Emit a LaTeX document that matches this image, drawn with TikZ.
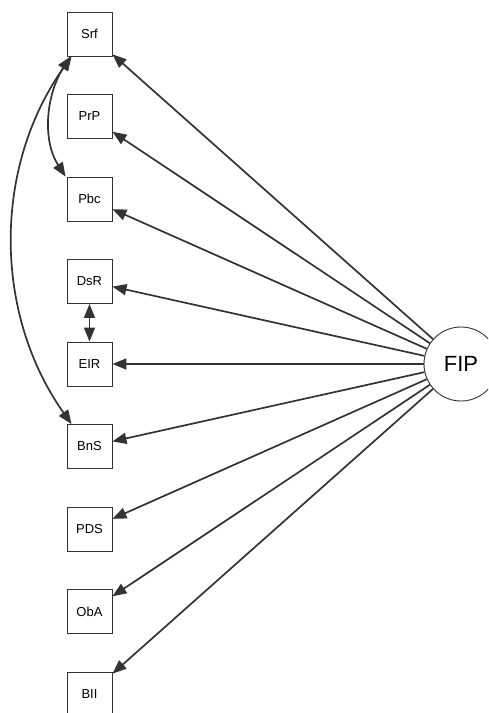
\documentclass[tikz,border=0pt]{standalone}
\usepackage{fontspec}
\setmainfont{Liberation Sans}
\usetikzlibrary{arrows.meta,positioning}
\definecolor{ink}{HTML}{333333}

\begin{document}
\begin{tikzpicture}[x=1pt,y=-1pt,
    var/.style={draw=ink,line width=0.9pt,minimum width=45pt,minimum height=44pt,inner sep=0pt,font=\fontsize{13}{15}\selectfont},
    lat/.style={draw=ink,line width=0.9pt,circle,minimum size=74pt,inner sep=0pt,font=\fontsize{22}{26}\selectfont},
    path/.style={-{Triangle[length=14pt,width=11pt]},ink,line width=1.7pt},
    cov/.style={{Triangle[length=14pt,width=11pt]}-{Triangle[length=14pt,width=11pt]},ink,line width=1.7pt}]
              \useasboundingbox (0,0) rectangle (488,713);
              \clip (0,0) rectangle (488,713);
              \node[var] (Srf) at (89.5,34) {Srf};
              \node[var] (PrP) at (89.5,116.5) {PrP};
              \node[var] (Pbc) at (89.5,199) {Pbc};
              \node[var] (DsR) at (89.5,281.5) {DsR};
              \node[var] (EIR) at (89.5,364) {EIR};
              \node[var] (BnS) at (89.5,446.5) {BnS};
              \node[var] (PDS) at (89.5,529) {PDS};
              \node[var] (ObA) at (89.5,611.5) {ObA};
              \node[var] (BII) at (89.5,694) {BII};

              \node[lat] (FIP) at (461,364) {FIP};

              \draw[path] (FIP) -- (Srf);
              \draw[path] (FIP) -- (PrP);
              \draw[path] (FIP) -- (Pbc);
              \draw[path] (FIP) -- (DsR);
              \draw[path] (FIP) -- (EIR);
              \draw[path] (FIP) -- (BnS);
              \draw[path] (FIP) -- (PDS);
              \draw[path] (FIP) -- (ObA);
              \draw[path] (FIP) -- (BII);

              \draw[cov] (DsR) -- (EIR);
              \draw[cov] ([xshift=4pt]Srf.south west) .. controls (46,95) and (42,140) .. ([xshift=-1pt]Pbc.north west);
              \draw[cov] ([xshift=5pt]Srf.south west) .. controls (-7,167) and (-7,313) .. ([xshift=5pt]BnS.north west);
            \end{tikzpicture}
\end{document}
